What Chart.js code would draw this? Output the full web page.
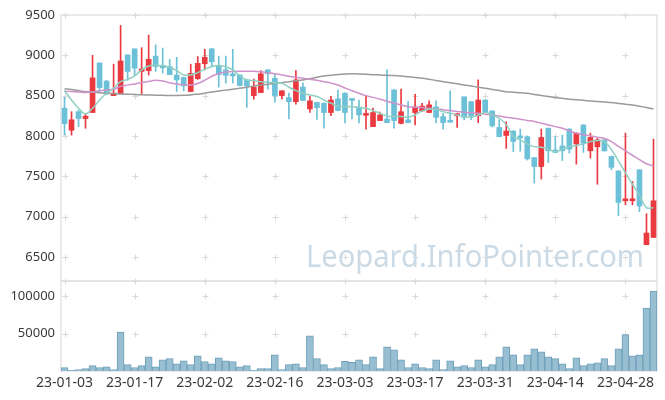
<!DOCTYPE html>
<html>
<head>
<meta charset="utf-8">
<script src="https://cdn.jsdelivr.net/npm/chart.js@4"></script>
<style>
  html, body { margin: 0; padding: 0; background: #fff; }
</style>
</head>
<body>
<canvas id="chart" width="665" height="400"></canvas>
<script>
// trading days
const dates = [
  '23-01-03','23-01-04','23-01-05','23-01-06','23-01-09','23-01-10','23-01-11','23-01-12','23-01-13','23-01-16',
  '23-01-17','23-01-18','23-01-19','23-01-20','23-01-25','23-01-26','23-01-27','23-01-30','23-01-31','23-02-01',
  '23-02-02','23-02-03','23-02-06','23-02-07','23-02-08','23-02-09','23-02-10','23-02-13','23-02-14','23-02-15',
  '23-02-16','23-02-17','23-02-20','23-02-21','23-02-22','23-02-23','23-02-24','23-02-27','23-02-28','23-03-02',
  '23-03-03','23-03-06','23-03-07','23-03-08','23-03-09','23-03-10','23-03-13','23-03-14','23-03-15','23-03-16',
  '23-03-17','23-03-20','23-03-21','23-03-22','23-03-23','23-03-24','23-03-27','23-03-28','23-03-29','23-03-30',
  '23-03-31','23-04-03','23-04-04','23-04-05','23-04-06','23-04-07','23-04-10','23-04-11','23-04-12','23-04-13',
  '23-04-14','23-04-17','23-04-18','23-04-19','23-04-20','23-04-21','23-04-24','23-04-25','23-04-26','23-04-27',
  '23-04-28','23-05-02','23-05-03','23-05-04','23-05-08'
];

const openPrices = [
  8345,8070,8300,8215,8290,8905,8680,8500,8525,9005,
  9080,8800,8810,8990,8875,8860,8755,8725,8550,8710,
  8895,9080,8870,8820,8757,8755,8695,8500,8537,8820,
  8715,8500,8475,8425,8605,8335,8415,8405,8290,8460,
  8530,8450,8355,8255,8115,8190,8210,8570,8155,8200,
  8290,8310,8290,8360,8240,8185,8250,8485,8425,8250,
  8445,8310,8105,8005,8060,7990,7990,7730,7620,8095,
  7825,7875,8085,7900,8135,7815,7865,7950,7745,7565,
  7195,7195,7580,6650,6740
];
const highPrices = [
  8480,8300,8320,8270,9000,8905,8690,8890,9370,9005,
  9080,9095,9250,9130,9090,8950,8975,8730,8890,8985,
  9075,9085,8990,8990,9075,8760,8700,8705,8810,8820,
  8770,8560,8530,8810,8660,8490,8420,8410,8490,8570,
  8535,8450,8445,8495,8345,8295,8820,8575,8580,8425,
  8515,8405,8435,8435,8280,8560,8280,8485,8425,8695,
  8450,8310,8200,8175,8065,8085,8000,7735,8085,8100,
  7990,8010,8090,8040,8140,8035,7970,7955,7750,7570,
  8035,7435,7580,7035,7960
];
const lowPrices = [
  8010,8010,8115,8095,8290,8550,8510,8500,8525,8690,
  8755,8520,8755,8800,8780,8760,8550,8560,8550,8700,
  8820,8860,8605,8655,8655,8620,8355,8455,8535,8580,
  8420,8460,8210,8395,8440,8290,8205,8095,8250,8310,
  8160,8210,8160,8085,8115,8190,8165,8095,8150,8160,
  8135,8305,8290,8160,8085,8170,8105,8200,8200,8165,
  8290,8110,7990,7845,7805,7810,7700,7415,7465,7670,
  7790,7695,7785,7650,7795,7725,7400,7810,7580,7010,
  7145,7145,7060,6650,6740
];
const closePrices = [
  8150,8200,8215,8245,8720,8600,8525,8530,8930,8800,
  8840,8830,8950,8860,8845,8760,8695,8620,8775,8900,
  8975,8920,8760,8750,8745,8625,8620,8605,8770,8770,
  8500,8560,8425,8695,8440,8435,8350,8290,8445,8315,
  8290,8440,8260,8275,8290,8260,8165,8190,8300,8165,
  8360,8370,8385,8230,8165,8170,8275,8230,8250,8445,
  8300,8125,7990,8060,7930,7975,7715,7620,7980,7815,
  7795,7815,7835,8035,7910,7980,7950,7815,7610,7175,
  7205,7220,7130,6795,7195
];

// moving averages as drawn
const ma5 = [
  8562,8446,8343,8273,8343,8446,8529,8591,8673,8702,
  8744,8818,8868,8876,8870,8851,8810,8756,8756,8785,
  8826,8859,8872,8859,8818,8744,8694,8686,8673,8665,
  8660,8653,8604,8562,8529,8508,8488,8446,8405,8372,
  8363,8363,8356,8343,8314,8281,8248,8240,8240,8232,
  8260,8310,8331,8331,8301,8281,8260,8240,8232,8260,
  8289,8260,8219,8140,7995,7950,7901,7867,7860,7835,
  7805,7835,7867,7880,7901,7929,7942,7929,7830,7690,
  7540,7400,7265,7110,7110
];
const ma20 = [
  8555,8550,8545,8540,8545,8560,8570,8580,8615,8630,
  8645,8660,8675,8690,8680,8660,8645,8635,8632,8650,
  8690,8740,8775,8792,8800,8802,8802,8802,8795,8785,
  8770,8756,8740,8727,8715,8702,8690,8673,8655,8632,
  8595,8560,8529,8500,8478,8455,8430,8405,8383,8363,
  8355,8351,8343,8335,8325,8314,8304,8294,8287,8281,
  8270,8260,8246,8232,8220,8207,8192,8178,8157,8136,
  8115,8095,8064,8033,8015,8000,7985,7968,7930,7870,
  7815,7760,7705,7655,7625
];
const ma60 = [
  8585,8575,8562,8550,8542,8535,8530,8525,8520,8517,
  8514,8510,8508,8505,8503,8501,8501,8503,8508,8518,
  8530,8545,8557,8568,8580,8591,8605,8618,8632,8642,
  8652,8661,8672,8683,8694,8710,8727,8744,8753,8762,
  8768,8770,8769,8765,8760,8756,8752,8748,8744,8735,
  8725,8715,8702,8688,8673,8660,8646,8632,8618,8605,
  8591,8577,8563,8549,8542,8535,8529,8515,8502,8488,
  8477,8466,8455,8448,8441,8434,8427,8420,8413,8403,
  8394,8384,8368,8352,8335
];

const volumes = [
  4400,900,1800,3100,7100,4400,5700,1800,52000,8400,
  4400,7100,19000,5700,15000,16400,9700,13700,8400,20300,
  12400,9700,17700,13700,12400,5700,7100,900,3100,3100,
  21700,1800,8400,9700,4400,46900,16400,8400,3100,4400,
  12800,11500,15000,8400,19000,3100,32300,28300,15000,4400,
  9700,4400,3100,15000,1800,13700,5700,7100,4400,15000,
  5700,8400,19000,32300,21700,8400,21700,29600,25600,19000,
  16400,9700,3100,17700,7100,9700,11000,16400,7100,29600,
  48600,20300,21700,84000,106500
];

const priceTicks = [6500, 7000, 7500, 8000, 8500, 9000, 9500];
const volTicks = [50000, 100000];

const upColor = '#ea3a40';
const downColor = '#6cc1d8';

const candleColors = closePrices.map((c, i) => c >= openPrices[i] ? upColor : downColor);
const bodies = openPrices.map((o, i) => [o, closePrices[i]]);
const wicks = lowPrices.map((l, i) => [l, highPrices[i]]);

// '+' marks instead of grid lines, plus panel frames
const gridMarks = {
  id: 'gridMarks',
  beforeDatasetsDraw(chart) {
    const ctx = chart.ctx;
    const xs = chart.scales.x;
    ctx.save();
    ctx.strokeStyle = '#e3e3e3';
    ctx.lineWidth = 1.5;
    ['y', 'yVol'].forEach(id => {
      const s = chart.scales[id];
      ctx.strokeRect(xs.left, s.top, xs.right - xs.left, s.bottom - s.top);
    });

    ctx.strokeStyle = '#d9d9d9';
    ctx.lineWidth = 1;
    const rows = [];
    priceTicks.forEach(v => rows.push(chart.scales.y.getPixelForValue(v)));
    volTicks.forEach(v => rows.push(chart.scales.yVol.getPixelForValue(v)));
    rows.push(chart.scales.yVol.top);
    for (let i = 0; i < dates.length; i += 10) {
      const px = Math.round(xs.getPixelForValue(i)) + 0.5;
      rows.forEach(y => {
        const py = Math.round(y) + 0.5;
        ctx.beginPath();
        ctx.moveTo(px - 3, py);
        ctx.lineTo(px + 3, py);
        ctx.moveTo(px, py - 3);
        ctx.lineTo(px, py + 3);
        ctx.stroke();
      });
    }

    // watermark
    ctx.fillStyle = '#cbdae5';
    ctx.font = "31px 'Noto Sans', sans-serif";
    ctx.textBaseline = 'alphabetic';
    ctx.fillText('Leopard.InfoPointer.com', 306, 267, 338);
    ctx.restore();
  }
};

Chart.defaults.font.family = "'Noto Sans', sans-serif";
Chart.defaults.font.size = 13;
Chart.defaults.color = '#3a3a3a';

new Chart(document.getElementById('chart'), {
  type: 'bar',
  data: {
    labels: dates,
    datasets: [
      {
        type: 'line', label: 'MA5', data: ma5, yAxisID: 'y',
        borderColor: '#8fd0c2', borderWidth: 1.5, pointRadius: 0, tension: 0.4, order: 0
      },
      {
        type: 'line', label: 'MA20', data: ma20, yAxisID: 'y',
        borderColor: '#cf92cb', borderWidth: 1.5, pointRadius: 0, tension: 0.4, order: 0
      },
      {
        type: 'line', label: 'MA60', data: ma60, yAxisID: 'y',
        borderColor: '#9a9a9a', borderWidth: 1.5, pointRadius: 0, tension: 0.4, order: 0
      },
      {
        label: 'wick', data: wicks, yAxisID: 'y', grouped: false,
        backgroundColor: candleColors, barThickness: 1, order: 2
      },
      {
        label: 'body', data: bodies, yAxisID: 'y', grouped: false,
        backgroundColor: candleColors, barThickness: 5, minBarLength: 2, order: 1
      },
      {
        label: 'volume', data: volumes, yAxisID: 'yVol', grouped: false,
        backgroundColor: '#98bfd1', borderColor: '#6e9fba', borderWidth: 1,
        barPercentage: 1, categoryPercentage: 1, order: 3
      }
    ]
  },
  options: {
    responsive: false,
    animation: false,
    devicePixelRatio: 1,
    layout: { padding: { top: 15, right: 8, left: 0, bottom: 0 } },
    plugins: { legend: { display: false }, tooltip: { enabled: false } },
    scales: {
      x: {
        grid: { display: false, drawTicks: false },
        border: { display: false },
        ticks: {
          autoSkip: false, maxRotation: 0, padding: 4,
          font: { size: 14 },
          callback: function (val, index) {
            return index % 10 === 0 ? this.getLabelForValue(val) : '';
          }
        },
        afterFit: (scale) => { scale.height = 29; }
      },
      yVol: {
        stack: 'panels', stackWeight: 90, position: 'left',
        min: 0, max: 120000,
        grid: { display: false, drawTicks: false },
        border: { display: false },
        ticks: { padding: 6, callback: (v) => String(v) },
        afterBuildTicks: (scale) => { scale.ticks = volTicks.map(v => ({ value: v })); },
        afterFit: (scale) => { scale.width = 61; }
      },
      y: {
        stack: 'panels', stackWeight: 266, position: 'left',
        min: 6200, max: 9500,
        grid: { display: false, drawTicks: false },
        border: { display: false },
        ticks: { padding: 6, callback: (v) => String(v) },
        afterBuildTicks: (scale) => { scale.ticks = priceTicks.map(v => ({ value: v })); },
        afterFit: (scale) => { scale.width = 61; }
      }
    }
  },
  plugins: [gridMarks]
});
</script>
</body>
</html>
